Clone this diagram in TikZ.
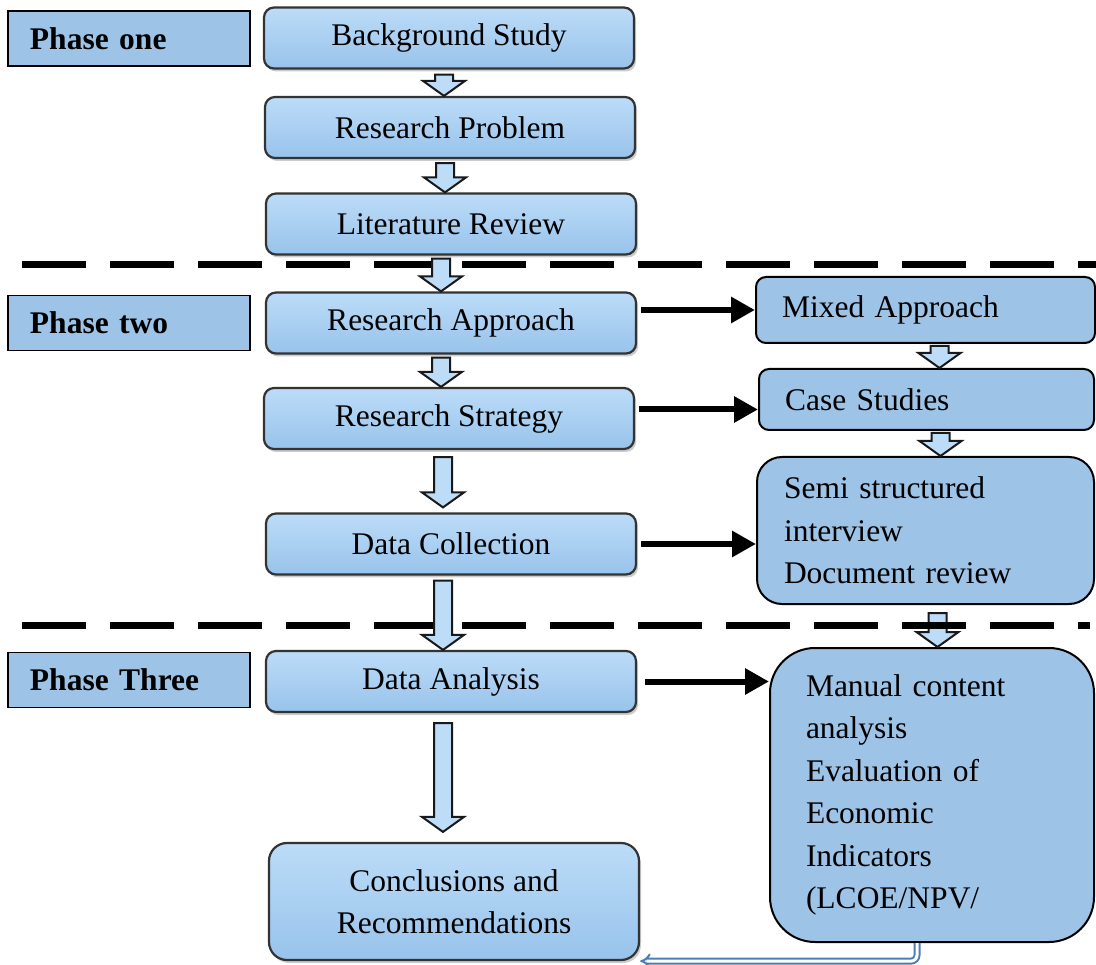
\documentclass[tikz,border=0pt]{standalone}
\usepackage{fontspec}
\setmainfont{Liberation Serif}
\usepackage{xcolor}
\usepackage{tikz}
\usetikzlibrary{arrows.meta,positioning,calc,shadows}
\definecolor{StepTop}{HTML}{BCDCF8}
\definecolor{StepBottom}{HTML}{98C3EB}
\definecolor{SideBlue}{HTML}{9DC3E6}
\definecolor{StepLine}{HTML}{333333}
\definecolor{LinkBlue}{HTML}{4A7EBB}

\newcommand{\blockarrow}[2]{%
  \draw[blockarr] let \p1=(#1), \p2=(#2) in
    (\x1-9pt,\y1) -- (\x1+9pt,\y1) -- (\x1+9pt,\y2+15pt) -- (\x1+21pt,\y2+15pt)
    -- (\x1,\y2) -- (\x1-21pt,\y2+15pt) -- (\x1-9pt,\y2+15pt) -- cycle;}

\begin{document}
\begin{tikzpicture}[
  x=1pt, y=-1pt,
  font=\fontsize{31.5}{42.5}\selectfont,
  stepbox/.style={draw=StepLine, line width=2.2pt, rounded corners=10pt, top color=StepTop, bottom color=StepBottom,
    minimum width=370pt, minimum height=61pt, inner sep=0pt, align=center,
    drop shadow={shadow xshift=2pt, shadow yshift=-3pt, opacity=0.4}},
  phasebox/.style={draw, line width=1.6pt, fill=SideBlue, minimum height=55pt, text width=198pt, inner xsep=22pt,
    align=left, font=\fontsize{31.5}{42.5}\selectfont\bfseries},
  sidebox/.style={draw, line width=2pt, fill=SideBlue, rounded corners=10pt, align=left, inner xsep=26pt},
  blockarr/.style={draw=black!90, line width=2pt, fill=StepTop, line join=miter},
  arrow/.style={-{Triangle[length=24pt,width=25pt]}, line width=6pt, shorten <=4pt},
  divider/.style={line width=7pt, dash pattern=on 64pt off 24pt},
  link/.style={draw=LinkBlue, double=white, double distance=3pt, line width=2pt, rounded corners=6pt, -{Implies}}
]
\useasboundingbox (0,0) rectangle (1096,965);

\node[phasebox] (ph1) at (129,38.5) {Phase one};
\node[stepbox] (bg) at (449,38) {Background Study};
\node[stepbox] (rp) at (450,127.5) {Research Problem};
\node[stepbox] (lr) at (451,224) {Literature Review};

\node[phasebox] (ph2) at (129,323) {Phase two};
\node[stepbox] (ra) at (451,323) {Research Approach};
\node[stepbox] (rs) at (449,418.5) {Research Strategy};
\node[stepbox] (dc) at (451,544) {Data Collection};

\node[phasebox] (ph3) at (129,680) {Phase Three};
\node[stepbox] (da) at (451,681.5) {Data Analysis};
\node[stepbox, minimum height=117pt, rounded corners=18pt] (cr) at (454,901.5) {Conclusions and\\Recommendations};

\node[sidebox, text width=287pt, minimum height=66pt] (ma) at (925.5,310) {Mixed Approach};
\node[sidebox, text width=283pt, minimum height=61pt] (cs) at (926.5,399.5) {Case Studies};
\node[sidebox, text width=283pt, inner xsep=27pt, minimum height=147pt, rounded corners=25pt] (ss) at (925.5,530.5)
  {Semi structured\\interview\\Document review};
\node[sidebox, text width=252pt, inner xsep=36pt, minimum height=294pt, rounded corners=45pt] (mc) at (932,795)
  {Manual content\\analysis\\Evaluation of\\Economic\\Indicators\\(LCOE/NPV/};

\blockarrow{$(ss.south)+(12,8)$}{mc.north}

\draw[divider] (22,265) -- (1096,265);
\draw[divider] (22,625) -- (1090,625);

\blockarrow{$(bg.south)+(-5,5)$}{rp.north}
\blockarrow{$(rp.south)+(-5,4)$}{lr.north}
\blockarrow{$(lr.south)+(-10,3)$}{ra.north}
\blockarrow{$(ra.south)+(-10,3)$}{rs.north}
\blockarrow{$(rs.south)+(-6,7)$}{$(dc.north)+(0,-5)$}
\blockarrow{$(dc.south)+(-8,5)$}{da.north}
\blockarrow{$(da.south)+(-8,10)$}{$(cr.north)+(0,-10)$}
\blockarrow{$(ma.south)+(14,2)$}{cs.north}
\blockarrow{$(cs.south)+(14,2)$}{ss.north}

\coordinate (csin) at ($(cs.west)+(0,10)$);
\coordinate (mcout) at ($(mc.south)+(-15,0)$);
\draw[arrow] (ra.east |- ma.west) -- (ma.west);
\draw[arrow] (rs.east |- csin) -- (csin);
\draw[arrow] (dc.east) -- (dc.east -| ss.west);
\draw[arrow, shorten <=8pt] (da.east) -- (da.east -| mc.west);
\draw[link] (mcout) |- (cr.south east);
\end{tikzpicture}
\end{document}
